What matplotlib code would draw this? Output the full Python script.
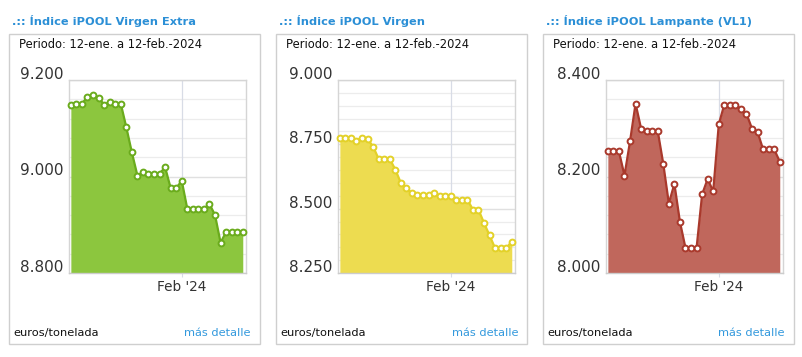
import matplotlib

matplotlib.use("Agg")
import matplotlib.dates as mdates
import matplotlib.pyplot as plt
import numpy as np
from matplotlib.patches import Rectangle

# daily quotes, 12-ene. to 12-feb.-2024 (euros/tonelada, thousands)
DATES = np.arange(np.datetime64("2024-01-12"), np.datetime64("2024-02-13"))

EXTRA = [9.149, 9.151, 9.151, 9.165, 9.168, 9.163, 9.149, 9.154, 9.151, 9.151,
         9.102, 9.050, 9.002, 9.009, 9.006, 9.006, 9.006, 9.019, 8.976, 8.976,
         8.991, 8.933, 8.933, 8.933, 8.933, 8.943, 8.920, 8.863, 8.885, 8.885,
         8.885, 8.885]
VIRGEN = [8.773, 8.773, 8.773, 8.764, 8.776, 8.771, 8.741, 8.693, 8.693, 8.693,
          8.652, 8.600, 8.581, 8.559, 8.555, 8.555, 8.555, 8.561, 8.548, 8.548,
          8.548, 8.535, 8.535, 8.535, 8.496, 8.496, 8.444, 8.396, 8.346, 8.346,
          8.346, 8.372]
LAMPANTE = [8.252, 8.252, 8.252, 8.202, 8.273, 8.351, 8.299, 8.294, 8.294, 8.294,
            8.226, 8.144, 8.185, 8.106, 8.052, 8.052, 8.052, 8.163, 8.195, 8.169,
            8.308, 8.349, 8.349, 8.349, 8.339, 8.330, 8.299, 8.292, 8.256, 8.256,
            8.256, 8.231]

TITLES = [".:: Índice iPOOL Virgen Extra", ".:: Índice iPOOL Virgen",
          ".:: Índice iPOOL Lampante (VL1)"]
PERIOD = "Periodo: 12-ene. a 12-feb.-2024"
Y_TICKS = [[8.8, 9.0, 9.2], [8.25, 8.5, 8.75, 9.0], [8.0, 8.2, 8.4]]
Y_TICK_LABELS = [["8.800", "9.000", "9.200"], ["8.250", "8.500", "8.750", "9.000"],
                 ["8.000", "8.200", "8.400"]]
Y_MINOR_STEP = [0.04, 0.05, 0.04]
SERIES = [EXTRA, VIRGEN, LAMPANTE]

FILL_COLORS = ["#8cc63e", "#eddc50", "#c0675c"]
LINE_COLORS = ["#6aab1c", "#e3d128", "#a9392c"]
TITLE_BLUE = "#2b8fd6"
LINK_BLUE = "#3399dd"

W, H = 803, 357
BOX_X = [9, 276, 543]
BOX_W = 251
AX_LEFT = [69, 338, 606]
AX_W = 177

fig = plt.figure(figsize=(W / 100, H / 100), dpi=100)
fig.patch.set_facecolor("white")


def fx(px):
  return px / W


def fy(py):
  return 1 - py / H


for i in range(3):
  bx = BOX_X[i]
  fig.add_artist(Rectangle((fx(bx), fy(344)), fx(BOX_W), (344 - 34) / H,
                           transform=fig.transFigure, facecolor="white",
                           edgecolor="#cfcfcf", linewidth=1.0, zorder=-5))
  fig.text(fx(bx + 3), fy(21), TITLES[i], ha="left", va="center",
           fontsize=8.2, fontweight="bold", color=TITLE_BLUE)
  fig.text(fx(bx + 10), fy(45), PERIOD, ha="left", va="center",
           fontsize=8.3, color="#111111")
  fig.text(fx(bx + 4), fy(333), "euros/tonelada", ha="left", va="center",
           fontsize=8.2, color="#111111")
  fig.text(fx(bx + BOX_W - 9), fy(333), "más detalle", ha="right", va="center",
           fontsize=8.2, color=LINK_BLUE)

  ax = fig.add_axes([fx(AX_LEFT[i]), fy(273), fx(AX_W), (273 - 80) / H])
  ax.set_facecolor("white")
  lo, hi = Y_TICKS[i][0], Y_TICKS[i][-1]
  ax.set_ylim(lo, hi)
  x0 = DATES[0] - np.timedelta64(8, "h")
  x1 = DATES[-1] + np.timedelta64(14, "h")
  ax.set_xlim(x0, x1)

  minor = np.arange(lo, hi + 1e-9, Y_MINOR_STEP[i])
  for v in minor:
    ax.axhline(v, color="#ececec", linewidth=0.9, zorder=0)
  for v in Y_TICKS[i]:
    ax.axhline(v, color="#e0e0e0", linewidth=0.9, zorder=0)
  feb = np.datetime64("2024-02-01")
  ax.axvline(feb, color="#d8dce6", linewidth=0.9, zorder=0)

  vals = SERIES[i]
  ax.fill_between(DATES, vals, lo, color=FILL_COLORS[i], linewidth=0, zorder=2)
  ax.plot(DATES, vals, color=LINE_COLORS[i], linewidth=1.6, zorder=3,
          marker="o", markersize=4.2, markerfacecolor="white",
          markeredgecolor=LINE_COLORS[i], markeredgewidth=1.4, clip_on=False)

  for s in ax.spines.values():
    s.set_color("#d5d5d5")
    s.set_linewidth(1.0)
  ax.spines["bottom"].set_color("#cccccc")

  ax.set_yticks(Y_TICKS[i])
  ax.set_yticklabels([])
  ax.tick_params(axis="y", length=0)
  for v, lab in zip(Y_TICKS[i], Y_TICK_LABELS[i]):
    ax.annotate(lab, xy=(0, v), xycoords=("axes fraction", "data"),
                xytext=(-4, 4), textcoords="offset points", ha="right",
                va="center", fontsize=11, color="#333333")

  ax.set_xticks([feb])
  ax.xaxis.set_major_formatter(mdates.DateFormatter("%b '%y"))
  ax.tick_params(axis="x", length=3, color="#d8dce6", pad=2,
                 labelsize=9.8, labelcolor="#333333")

fig.savefig("out.png", dpi=100, facecolor="white")
